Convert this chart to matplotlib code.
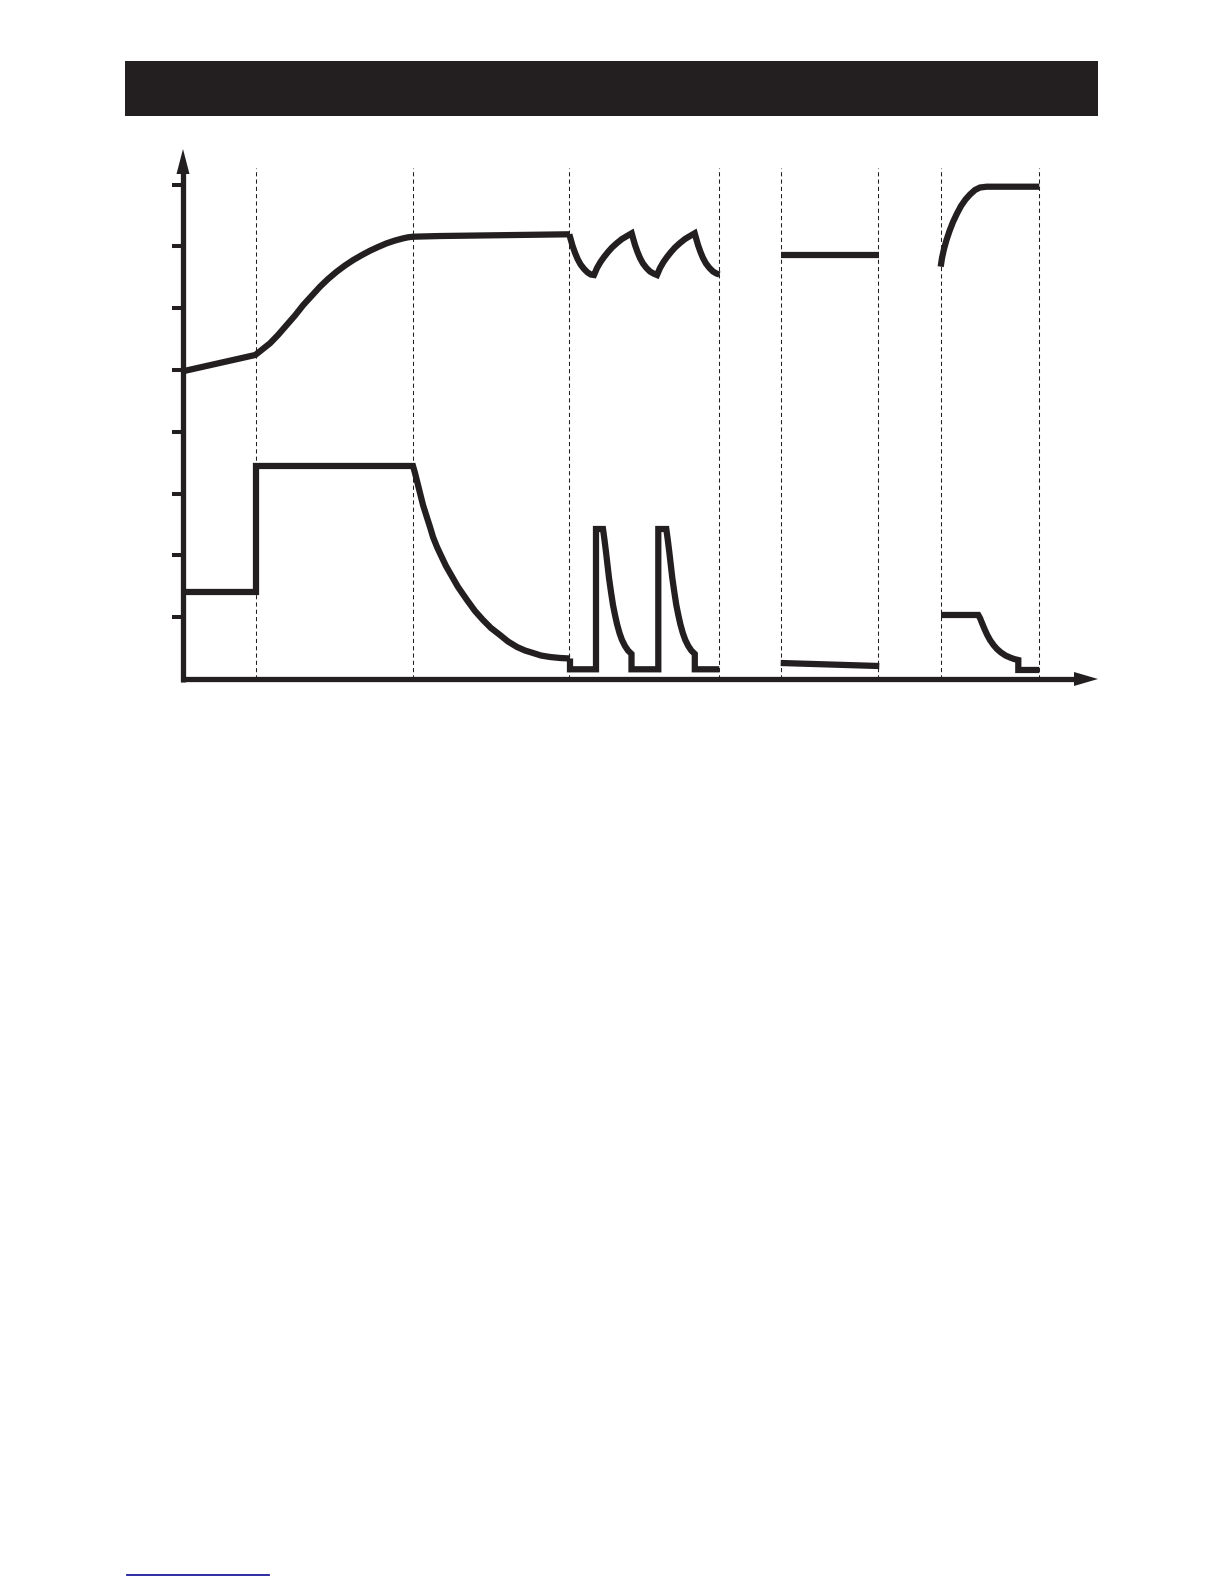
import matplotlib
matplotlib.use("Agg")
import matplotlib.pyplot as plt
from matplotlib.patches import Rectangle, Polygon
from matplotlib.lines import Line2D

# ---------------- data (time units, value units) ----------------
y_ticks = [1, 2, 3, 4, 5, 6, 7, 8]
phase_bounds = [0.73, 2.30, 3.86, 5.36, 5.98, 6.95, 7.58, 8.56]

# upper trace, segment 1 (0 -> 3.86)
up1_t = [0.0, 0.723, 0.87, 0.95, 1.037, 1.12, 1.203, 1.285, 1.37, 1.45, 1.537, 1.62, 1.703,
         1.79, 1.87, 1.95, 2.037, 2.12, 2.203, 2.25, 2.303, 2.57, 3.863]
up1_v = [4.98, 5.243, 5.432, 5.566, 5.728, 5.882, 6.052, 6.197, 6.348, 6.472, 6.591, 6.691, 6.780,
         6.861, 6.930, 6.990, 7.050, 7.095, 7.131, 7.147, 7.157, 7.168, 7.196]

# upper trace, segment 2 (sawtooth)
up2_t = [3.863, 3.876, 3.896, 3.921, 3.946, 3.976, 4.011, 4.046, 4.078, 4.11,
         4.14, 4.175, 4.21, 4.25, 4.29, 4.34, 4.39, 4.44, 4.487,
         4.50, 4.52, 4.545, 4.57, 4.60, 4.635, 4.67, 4.705, 4.74,
         4.77, 4.805, 4.84, 4.88, 4.92, 4.97, 5.02, 5.07, 5.117,
         5.13, 5.15, 5.175, 5.20, 5.23, 5.265, 5.30, 5.335, 5.365]
up2_v = [7.196, 7.120, 7.006, 6.893, 6.796, 6.707, 6.634, 6.578, 6.545, 6.537,
         6.650, 6.748, 6.828, 6.909, 6.982, 7.055, 7.120, 7.168, 7.212,
         7.136, 7.023, 6.909, 6.812, 6.723, 6.650, 6.594, 6.561, 6.537,
         6.650, 6.748, 6.828, 6.909, 6.982, 7.055, 7.120, 7.168, 7.212,
         7.136, 7.023, 6.909, 6.812, 6.723, 6.650, 6.594, 6.561, 6.545]

# upper trace, segment 3 (flat)
up3_t = [5.977, 6.963]
up3_v = [6.86, 6.86]

# upper trace, segment 4 (rise to top)
up4_t = [7.577, 7.59, 7.61, 7.635, 7.665, 7.70, 7.74, 7.78, 7.825, 7.87, 7.92, 7.97, 8.037, 8.563]
up4_v = [6.672, 6.812, 6.958, 7.104, 7.249, 7.395, 7.532, 7.654, 7.759, 7.840, 7.913, 7.953, 7.966, 7.966]

# lower trace, segment 1 (step + decay)
lo1_t = [0.0, 0.73, 0.73, 2.30, 2.32, 2.345, 2.37, 2.40, 2.437, 2.47, 2.50, 2.54, 2.587, 2.63,
         2.67, 2.75, 2.84, 2.92, 3.00, 3.08, 3.17, 3.25, 3.34, 3.42, 3.50, 3.58, 3.67, 3.77, 3.87]
lo1_v = [1.408, 1.408, 3.447, 3.447, 3.333, 3.172, 3.010, 2.816, 2.626, 2.460, 2.298, 2.136, 1.974, 1.828,
         1.715, 1.489, 1.278, 1.100, 0.955, 0.825, 0.712, 0.607, 0.518, 0.461, 0.421, 0.380, 0.356, 0.340, 0.332]

# lower trace, segment 2 (pulses)
lo2_t = [3.87, 3.87, 4.13, 4.13, 4.20, 4.215, 4.23, 4.245, 4.26, 4.28, 4.30, 4.32, 4.34, 4.365,
         4.39, 4.42, 4.45, 4.485, 4.485,
         4.753, 4.753, 4.833, 4.848, 4.863, 4.878, 4.893, 4.913, 4.933, 4.953, 4.973, 4.998,
         5.023, 5.053, 5.083, 5.118, 5.118, 5.363]
lo2_v = [0.332, 0.157, 0.157, 2.427, 2.427, 2.249, 2.055, 1.845, 1.634, 1.408, 1.197, 1.036, 0.890, 0.744,
         0.631, 0.534, 0.461, 0.405, 0.157,
         0.157, 2.427, 2.427, 2.249, 2.055, 1.845, 1.634, 1.408, 1.197, 1.036, 0.890, 0.744,
         0.631, 0.534, 0.461, 0.405, 0.157, 0.157]

# lower trace, segment 3 (slight slope)
lo3_t = [5.977, 6.963]
lo3_v = [0.259, 0.210]

# lower trace, segment 4
lo4_t = [7.58, 7.953, 7.97, 7.99, 8.015, 8.04, 8.07, 8.105, 8.14, 8.18, 8.225, 8.27, 8.31, 8.353,
         8.353, 8.563]
lo4_v = [1.036, 1.036, 0.987, 0.906, 0.809, 0.720, 0.631, 0.550, 0.485, 0.429, 0.380, 0.348, 0.324, 0.307,
         0.146, 0.146]

# ---------------- figure ----------------
W, H, DPI = 1224, 1584, 100
INK = "#231f20"
fig = plt.figure(figsize=(W / DPI, H / DPI), dpi=DPI)
fig.patch.set_facecolor("white")

# axes covering the whole figure; data scale: 100 px per time unit, 61.8 px per value unit
X0, Y0, SX, SY = 183.0, 679.0, 100.0, 61.8
ax = fig.add_axes([0, 0, 1, 1])
ax.set_xlim(-X0 / SX, (W - X0) / SX)
ax.set_ylim((Y0 - H) / SY, Y0 / SY)
ax.axis("off")

def px_t(px):
    return (px - X0) / SX

def py_v(py):
    return (Y0 - py) / SY

# header bar
fig.add_artist(Rectangle((125 / W, 1 - 115.7 / H), (1098 - 125) / W, 54.7 / H,
                         transform=fig.transFigure, facecolor=INK, edgecolor="none"))

# dashed phase boundaries
for b in phase_bounds:
    ax.plot([b, b], [py_v(679), py_v(168)], color=INK, lw=0.75,
            linestyle=(0, (4, 3)), zorder=1)

# axes lines
ax.plot([0, 0], [py_v(681.5), py_v(172)], color=INK, lw=3.8, solid_capstyle="butt", zorder=3)
ax.plot([px_t(180.5), px_t(1076)], [0, 0], color=INK, lw=3.8, solid_capstyle="butt", zorder=3)
ax.add_patch(Polygon([[px_t(176.5), py_v(174)], [px_t(189.5), py_v(174)], [px_t(183), py_v(149)]],
                     closed=True, facecolor=INK, edgecolor="none", zorder=3))
ax.add_patch(Polygon([[px_t(1074), py_v(672)], [px_t(1074), py_v(686)], [px_t(1098), py_v(679)]],
                     closed=True, facecolor=INK, edgecolor="none", zorder=3))

# y ticks
for v in y_ticks:
    ax.plot([px_t(172), 0], [v, v], color=INK, lw=2.9, solid_capstyle="butt", zorder=3)

# traces
style = dict(color=INK, lw=4.5, solid_capstyle="butt", solid_joinstyle="miter", zorder=4)
for t, v in [(up1_t, up1_v), (up2_t, up2_v), (up3_t, up3_v), (up4_t, up4_v),
             (lo1_t, lo1_v), (lo2_t, lo2_v), (lo3_t, lo3_v), (lo4_t, lo4_v)]:
    ax.plot(t, v, **style)

# blue underline at the bottom
fig.add_artist(Line2D([127 / W, 269 / W], [1 - 1575 / H, 1 - 1575 / H],
                      transform=fig.transFigure, color="#1c1c9c", lw=1.3))

fig.savefig("out.png", dpi=DPI, facecolor="white")
